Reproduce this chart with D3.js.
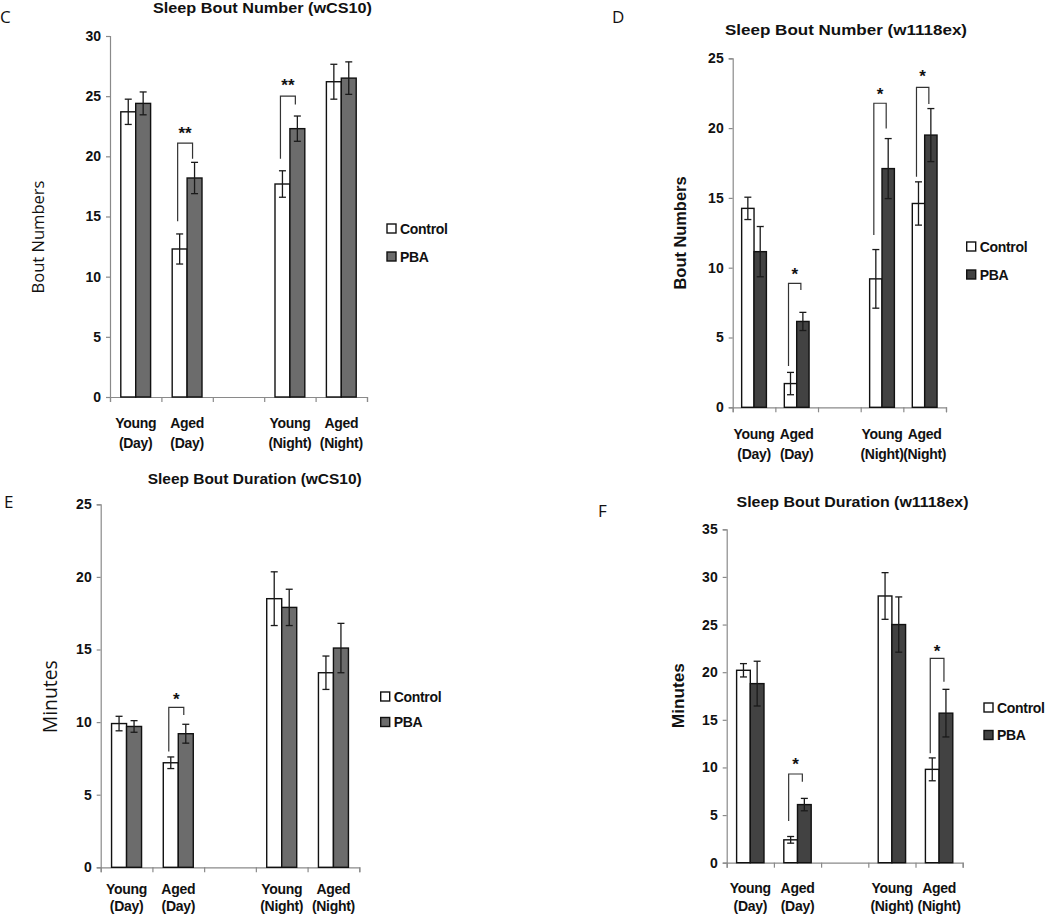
<!DOCTYPE html>
<html>
<head>
<meta charset="utf-8">
<script src="https://cdn.jsdelivr.net/npm/d3@7"></script>
<style>
  html, body { margin: 0; padding: 0; background: #fff; }
  svg { display: block; }
  text { fill: #111; }
</style>
</head>
<body>
<svg id="chart" width="1050" height="915"></svg>
<script>
// ---------------- DATA ----------------
const categoriesTop = ["Young", "Aged", "", "Young", "Aged"];
const categoriesBottom = ["(Day)", "(Day)", "", "(Night)", "(Night)"];
const seriesNames = ["Control", "PBA"];

// Panel C: Sleep Bout Number (wCS10)
const numberWCS10Control    = [23.7, 12.3, null, 17.7, 26.2];
const numberWCS10ControlErr = [1.05, 1.25, null, 1.1, 1.45];
const numberWCS10PBA        = [24.4, 18.2, null, 22.3, 26.5];
const numberWCS10PBAErr     = [0.95, 1.3, null, 1.05, 1.35];
const numberWCS10Ticks      = [0, 5, 10, 15, 20, 25, 30];
const numberWCS10Sig        = [
  {cat: 1, top: 21.1, left: 14.6, right: 19.8, star: 22.1, label: "**"},
  {cat: 3, top: 25.0, left: 19.8, right: 24.3, star: 26.1, label: "**"}
];

// Panel D: Sleep Bout Number (w1118ex)
const numberW1118Control    = [14.25, 1.7, null, 9.2, 14.6];
const numberW1118ControlErr = [0.8, 0.8, null, 2.1, 1.55];
const numberW1118PBA        = [11.15, 6.15, null, 17.1, 19.5];
const numberW1118PBAErr     = [1.8, 0.65, null, 2.15, 1.9];
const numberW1118Ticks      = [0, 5, 10, 15, 20, 25];
const numberW1118Sig        = [
  {cat: 1, top: 8.88, left: 2.96, right: 8.4, star: 9.7, label: "*"},
  {cat: 3, top: 21.78, left: 12.34, right: 19.98, star: 22.6, label: "*"},
  {cat: 4, top: 22.92, left: 16.52, right: 21.73, star: 23.87, label: "*"}
];

// Panel E: Sleep Bout Duration (wCS10)
const durationWCS10Control    = [9.9, 7.2, null, 18.5, 13.4];
const durationWCS10ControlErr = [0.5, 0.4, null, 1.85, 1.15];
const durationWCS10PBA        = [9.7, 9.2, null, 17.9, 15.1];
const durationWCS10PBAErr     = [0.4, 0.65, null, 1.25, 1.7];
const durationWCS10Ticks      = [0, 5, 10, 15, 20, 25];
const durationWCS10Sig        = [
  {cat: 1, top: 11.02, left: 7.97, right: 10.49, star: 11.75, label: "*"}
];

// Panel F: Sleep Bout Duration (w1118ex)
const durationW1118Control    = [20.2, 2.4, null, 28.0, 9.8];
const durationW1118ControlErr = [0.7, 0.35, null, 2.45, 1.2];
const durationW1118PBA        = [18.8, 6.1, null, 25.0, 15.7];
const durationW1118PBAErr     = [2.35, 0.65, null, 2.9, 2.5];
const durationW1118Ticks      = [0, 5, 10, 15, 20, 25, 30, 35];
const durationW1118Sig        = [
  {cat: 1, top: 9.31, left: 4.38, right: 8.5, star: 10.6, label: "*"},
  {cat: 4, top: 21.46, left: 11.48, right: 19.0, star: 22.44, label: "*"}
];

// ---------------- DRAWING ----------------
const svg = d3.select("#chart");
svg.append("rect").attr("width", 1050).attr("height", 915).attr("fill", "#fff");

const BOLD = "'Liberation Sans Narrow', 'Liberation Sans', Arial, sans-serif";
const REG = "'Open Sans', 'Liberation Sans', Arial, sans-serif";

function drawPanel(p) {
  const g = svg.append("g");
  const y = d3.scaleLinear().domain([0, p.max]).range([p.y0, p.yTop]);
  const x = d3.scaleBand().domain(d3.range(categoriesTop.length))
    .range([p.x0, p.x1]).paddingInner(0.42).paddingOuter(0.21);
  const xs = d3.scaleBand().domain(seriesNames).range([0, x.bandwidth()]);
  const xb = d3.scaleLinear().domain([0, categoriesTop.length]).range([p.x0, p.x1]);

  // y axis
  const ya = g.append("g").attr("transform", `translate(${p.x0},0)`)
    .call(d3.axisLeft(y).tickValues(p.ticks).tickSize(4).tickPadding(5).tickFormat(d3.format("d")));
  ya.select(".domain").attr("stroke", "#8a8a8a").attr("stroke-width", 1.2);
  ya.selectAll(".tick line").attr("stroke", "#8a8a8a").attr("stroke-width", 1.2);
  ya.selectAll(".tick text").attr("font-family", BOLD).attr("font-weight", "bold")
    .attr("font-size", 14).attr("fill", "#111");

  // x axis (boundary ticks)
  const xa = g.append("g").attr("transform", `translate(0,${p.y0})`)
    .call(d3.axisBottom(xb).tickValues(d3.range(categoriesTop.length + 1)).tickSize(5).tickFormat(""));
  xa.select(".domain").attr("stroke", "#8a8a8a").attr("stroke-width", 1.2);
  xa.selectAll(".tick line").attr("stroke", "#8a8a8a").attr("stroke-width", 1.2);

  // category labels
  categoriesTop.forEach((c, i) => {
    const cx = x(i) + x.bandwidth() / 2;
    g.append("text").attr("x", cx).attr("y", p.y0 + p.lab1)
      .attr("text-anchor", "middle").attr("font-family", BOLD).attr("font-weight", "bold")
      .attr("font-size", 14).attr("letter-spacing", -0.3).text(c);
    g.append("text").attr("x", cx).attr("y", p.y0 + p.lab2)
      .attr("text-anchor", "middle").attr("font-family", BOLD).attr("font-weight", "bold")
      .attr("font-size", 14).attr("letter-spacing", -0.3).text(categoriesBottom[i]);
  });

  // bars
  const series = [
    {name: "Control", vals: p.control, errs: p.controlErr, fill: "#ffffff"},
    {name: "PBA", vals: p.pba, errs: p.pbaErr, fill: p.pbaFill}
  ];
  series.forEach(s => {
    const rows = s.vals.map((v, i) => ({i, v, e: s.errs[i]})).filter(d => d.v !== null);
    g.selectAll(null).data(rows).enter().append("rect")
      .attr("x", d => x(d.i) + xs(s.name))
      .attr("y", d => y(d.v))
      .attr("width", xs.bandwidth())
      .attr("height", d => y(0) - y(d.v))
      .attr("fill", s.fill).attr("stroke", "#111").attr("stroke-width", 1.4);
    // error bars
    rows.forEach(d => {
      const cx = x(d.i) + xs(s.name) + xs.bandwidth() / 2;
      const eg = g.append("g").attr("stroke", "#1a1a1a").attr("stroke-width", 1.3);
      eg.append("line").attr("x1", cx).attr("x2", cx).attr("y1", y(d.v + d.e)).attr("y2", y(d.v - d.e));
      eg.append("line").attr("x1", cx - 3.5).attr("x2", cx + 3.5).attr("y1", y(d.v + d.e)).attr("y2", y(d.v + d.e));
      eg.append("line").attr("x1", cx - 3.5).attr("x2", cx + 3.5).attr("y1", y(d.v - d.e)).attr("y2", y(d.v - d.e));
    });
  });

  // significance brackets
  p.sig.forEach(s => {
    const lx = x(s.cat) + xs("Control") + xs.bandwidth() / 2 - 2;
    const rx = x(s.cat) + xs("PBA") + xs.bandwidth() / 2 - 2;
    g.append("path")
      .attr("d", `M${lx},${y(s.left)}V${y(s.top)}H${rx}V${y(s.right)}`)
      .attr("fill", "none").attr("stroke", "#333").attr("stroke-width", 1.2);
    g.append("text").attr("x", (lx + rx) / 2).attr("y", y(s.star) + 8)
      .attr("text-anchor", "middle").attr("font-family", BOLD).attr("font-weight", "bold")
      .attr("font-size", 17).text(s.label);
  });

  // title
  g.append("text").attr("x", p.titleX).attr("y", p.titleY).attr("text-anchor", "middle")
    .attr("font-family", BOLD).attr("font-weight", "bold").attr("font-size", 15)
    .attr("textLength", p.titleW).attr("lengthAdjust", "spacingAndGlyphs").text(p.title);

  // panel letter
  g.append("text").attr("x", p.letterX).attr("y", p.letterY)
    .attr("font-family", REG).attr("font-size", 17).attr("fill", "#222").text(p.letter);

  // y axis title
  g.append("text").attr("transform", `translate(${p.ytX},${p.ytY}) rotate(-90)`)
    .attr("text-anchor", "middle").attr("dominant-baseline", "middle")
    .attr("font-family", p.ytBold ? BOLD : REG).attr("font-weight", p.ytBold ? "bold" : "normal")
    .attr("font-size", p.ytSize)
    .attr("textLength", p.ytW).attr("lengthAdjust", "spacingAndGlyphs").text(p.yTitle);

  // legend
  series.forEach((s, k) => {
    const ly = p.legY + k * p.legGap;
    g.append("rect").attr("x", p.legX).attr("y", ly).attr("width", 9).attr("height", 9)
      .attr("fill", s.fill).attr("stroke", "#111").attr("stroke-width", 1.4);
    g.append("text").attr("x", p.legX + 13).attr("y", ly + 9.5)
      .attr("font-family", BOLD).attr("font-weight", "bold").attr("font-size", 14)
      .attr("letter-spacing", -0.3).text(s.name);
  });
}

drawPanel({
  x0: 110, x1: 367, y0: 397, yTop: 36, max: 30, ticks: numberWCS10Ticks,
  control: numberWCS10Control, controlErr: numberWCS10ControlErr,
  pba: numberWCS10PBA, pbaErr: numberWCS10PBAErr, pbaFill: "#6c6c6c",
  sig: numberWCS10Sig, lab1: 31, lab2: 51,
  title: "Sleep Bout Number (wCS10)", titleX: 262.5, titleY: 13, titleW: 219,
  letter: "C", letterX: 0, letterY: 23,
  yTitle: "Bout Numbers", ytX: 40, ytY: 237, ytSize: 16, ytW: 113, ytBold: false,
  legX: 387, legY: 224, legGap: 28
});

drawPanel({
  x0: 732.7, x1: 946, y0: 407.3, yTop: 58.3, max: 25, ticks: numberW1118Ticks,
  control: numberW1118Control, controlErr: numberW1118ControlErr,
  pba: numberW1118PBA, pbaErr: numberW1118PBAErr, pbaFill: "#424242",
  sig: numberW1118Sig, lab1: 32, lab2: 52,
  title: "Sleep Bout Number (w1118ex)", titleX: 846, titleY: 35, titleW: 242,
  letter: "D", letterX: 612, letterY: 23,
  yTitle: "Bout Numbers", ytX: 681.7, ytY: 233, ytSize: 16, ytW: 113, ytBold: true,
  legX: 966.7, legY: 242, legGap: 28
});

drawPanel({
  x0: 100.7, x1: 359.3, y0: 867.3, yTop: 504.3, max: 25, ticks: durationWCS10Ticks,
  control: durationWCS10Control, controlErr: durationWCS10ControlErr,
  pba: durationWCS10PBA, pbaErr: durationWCS10PBAErr, pbaFill: "#6c6c6c",
  sig: durationWCS10Sig, lab1: 27, lab2: 43.5,
  title: "Sleep Bout Duration (wCS10)", titleX: 254.7, titleY: 484, titleW: 214,
  letter: "E", letterX: 4, letterY: 508,
  yTitle: "Minutes", ytX: 51.7, ytY: 696.7, ytSize: 20, ytW: 73, ytBold: false,
  legX: 380.7, legY: 692, legGap: 25.5
});

drawPanel({
  x0: 726.7, x1: 962.7, y0: 862.7, yTop: 529.3, max: 35, ticks: durationW1118Ticks,
  control: durationW1118Control, controlErr: durationW1118ControlErr,
  pba: durationW1118PBA, pbaErr: durationW1118PBAErr, pbaFill: "#424242",
  sig: durationW1118Sig, lab1: 30, lab2: 48,
  title: "Sleep Bout Duration (w1118ex)", titleX: 852.5, titleY: 507, titleW: 232,
  letter: "F", letterX: 598, letterY: 517,
  yTitle: "Minutes", ytX: 679.3, ytY: 695.7, ytSize: 17, ytW: 65, ytBold: true,
  legX: 984, legY: 703, legGap: 27.5
});
</script>
</body>
</html>
